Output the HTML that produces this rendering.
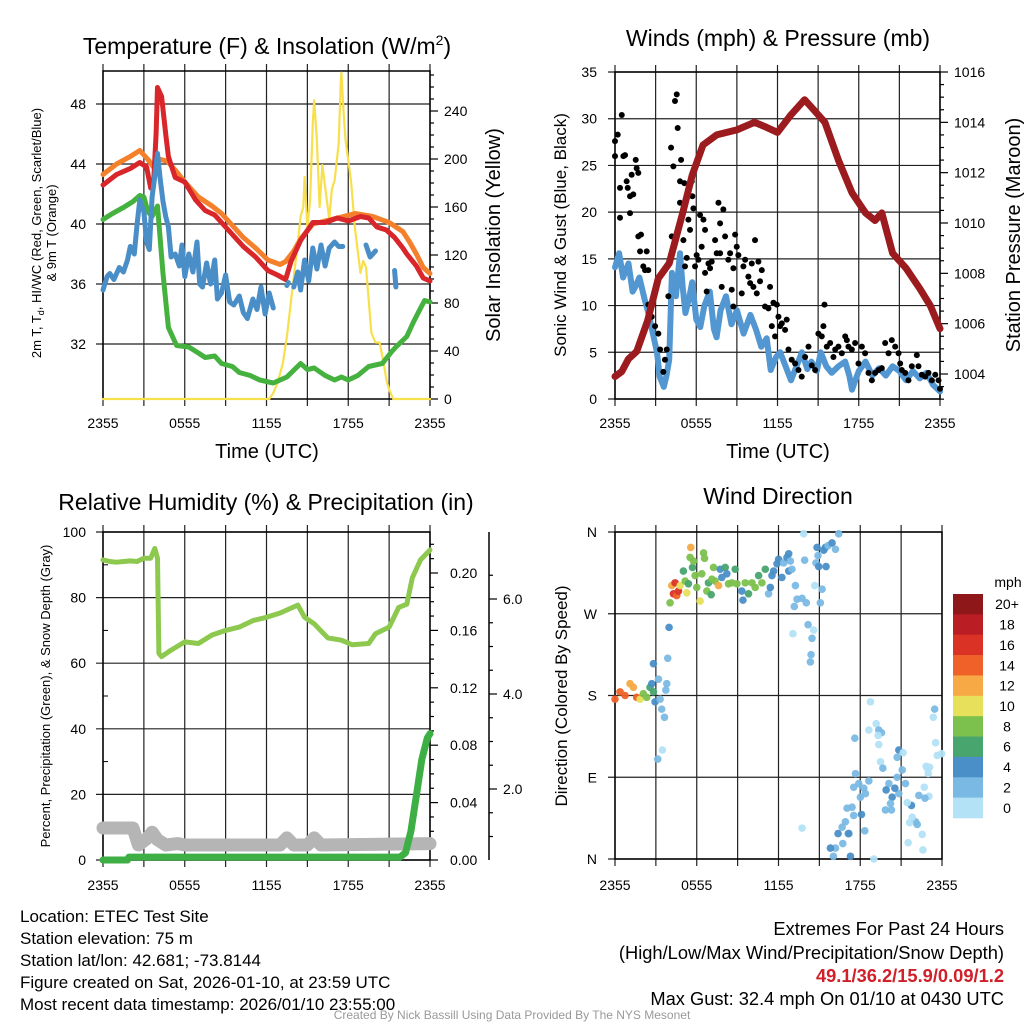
<!DOCTYPE html>
<html><head><meta charset="utf-8"><style>
html,body{margin:0;padding:0;background:#fff}
svg{display:block;font-family:"Liberation Sans",Arial,sans-serif}
</style></head><body>
<svg id="root" width="1024" height="1024" viewBox="0 0 1024 1024" xmlns="http://www.w3.org/2000/svg">
<rect width="1024" height="1024" fill="#fff"/>
<g id="p1"></g>
<g id="p2"></g>
<g id="p3"></g>
<g id="p4"></g>
<text x="267" y="54" font-size="23" text-anchor="middle">Temperature (F) &amp; Insolation (W/m<tspan dy="-9" font-size="14">2</tspan><tspan dy="9">)</tspan></text>
<text x="778" y="46" font-size="23" text-anchor="middle">Winds (mph) &amp; Pressure (mb)</text>
<text x="266" y="510" font-size="23" text-anchor="middle">Relative Humidity (%) &amp; Precipitation (in)</text>
<text x="778" y="504" font-size="23" text-anchor="middle">Wind Direction</text>
<text x="267" y="458" font-size="20" text-anchor="middle">Time (UTC)</text>
<text x="778" y="458" font-size="20" text-anchor="middle">Time (UTC)</text>
<text transform="translate(41,233) rotate(-90)" font-size="13" text-anchor="middle">2m T, T<tspan font-size="9" dy="3">d</tspan><tspan dy="-3">, HI/WC (Red, Green, Scarlet/Blue)</tspan></text>
<text transform="translate(56,233) rotate(-90)" font-size="13" text-anchor="middle">&amp; 9m T (Orange)</text>
<text transform="translate(500,235) rotate(-90)" font-size="20" text-anchor="middle">Solar Insolation (Yellow)</text>
<text transform="translate(566,235) rotate(-90)" font-size="17" text-anchor="middle">Sonic Wind &amp; Gust (Blue, Black)</text>
<text transform="translate(1020,235) rotate(-90)" font-size="20" text-anchor="middle">Station Pressure (Maroon)</text>
<text transform="translate(50,696) rotate(-90)" font-size="13" text-anchor="middle">Percent, Precipitation (Green), &amp; Snow Depth (Gray)</text>
<text transform="translate(567,696) rotate(-90)" font-size="17" text-anchor="middle">Direction (Colored By Speed)</text>
<g font-size="17">
<text x="20" y="922">Location: ETEC Test Site</text>
<text x="20" y="944">Station elevation: 75 m</text>
<text x="20" y="966">Station lat/lon: 42.681; -73.8144</text>
<text x="20" y="988">Figure created on Sat, 2026-01-10, at 23:59 UTC</text>
<text x="20" y="1010">Most recent data timestamp: 2026/01/10 23:55:00</text>
</g>
<g font-size="18.3" text-anchor="end">
<text x="1004" y="935">Extremes For Past 24 Hours</text>
<text x="1004" y="959">(High/Low/Max Wind/Precipitation/Snow Depth)</text>
<text x="1004" y="982" fill="#d0202a" font-weight="bold">49.1/36.2/15.9/0.09/1.2</text>
<text x="1004" y="1005">Max Gust: 32.4 mph On 01/10 at 0430 UTC</text>
</g>
<text x="512" y="1019" font-size="12" fill="#999" text-anchor="middle">Created By Nick Bassill Using Data Provided By The NYS Mesonet</text>
</svg>
<script>
// ---------- Panel 1 data ----------
const timeTickLabels = ["2355","0555","1155","1755","2355"];
const tempTicks = [32,36,40,44,48];
const insolTicks = [0,40,80,120,160,200,240];
const redTimes = [0,1,2,2.7,3.2,3.5,3.7,3.9,4.0,4.3,4.6,4.8,5.3,6,6.8,7.5,8.2,8.7,9.5,10.3,11.2,12.1,12.8,13.4,13.8,14.5,15.4,16.3,17.2,18,18.9,19.5,20.1,20.8,21.4,22,22.3,23,23.5,24];
const redVals = [42.6,43.3,43.7,44.1,43.8,42.4,42.5,46,49.1,48.5,46,44.5,43.1,42.8,41.6,40.9,40.6,40.1,39.3,38.5,37.8,36.9,36.6,36.3,37.5,38.9,40.1,40.1,40.4,40.2,40.5,40.4,39.8,39.6,39.1,38.4,38.0,37.2,36.4,36.2];
const orangeTimes = [0,1,2,2.7,3.3,3.7,4.2,4.7,5.3,6,7,8,8.7,9.5,10.3,11.2,12.1,13,13.4,14,14.5,15.4,16.3,17.2,18.5,19.8,21,22,22.5,23,23.5,24];
const orangeVals = [43.3,44.0,44.5,44.9,44.3,43.8,44.3,44.2,43.6,42.8,41.8,41.2,40.7,39.9,39.1,38.4,37.6,37.3,37.5,38.2,39.0,40.0,40.2,40.4,40.7,40.5,40.1,39.5,38.8,38.0,37.1,36.7];
const greenTimes = [0,0.7,1.5,2.2,2.7,3.0,3.3,3.6,4.0,4.2,4.4,4.8,5.4,6.3,7.0,7.5,8.2,8.7,9.5,10,10.8,11.5,12.5,13.5,14.5,15,15.5,16.3,17,17.5,18,18.7,19.5,20.5,21.2,21.5,22.3,22.8,23.2,23.6,24];
const greenVals = [40.3,40.7,41.1,41.5,41.9,41.8,40.8,40.5,41.2,39,36.7,33.1,31.9,31.8,31.4,31.1,31.2,30.7,30.5,30.1,29.9,29.6,29.4,29.8,30.7,30.3,30.4,29.9,29.6,29.8,29.6,29.9,30.5,30.7,31.5,31.8,32.5,33.5,34.2,34.9,34.8];
const blueTimes = [0,0.3,0.5,0.8,1.2,1.5,1.8,2.0,2.3,2.5,2.7,3.0,3.2,3.4,3.6,3.8,4.0,4.2,4.4,4.6,4.8,5.0,5.3,5.6,5.8,6.0,6.3,6.6,6.9,7.1,7.3,7.6,7.9,8.2,8.4,8.7,9.0,9.3,9.6,10.0,10.3,10.6,11.0,11.3,11.6,11.9,12.2,12.5,12.6,13.5,13.6,13.7,14.0,14.3,14.5,14.8,15.1,15.4,15.7,16.0,16.3,16.6,17.0,17.3,17.6,17.7,19.3,19.6,20.0,20.1,21.4,21.5];
const blueVals = [35.6,36.5,36.7,36.3,37.1,36.8,37.6,38.5,38.0,40.0,41.6,40.8,38.8,38.3,41.8,43.2,44.7,43.0,41.5,40.5,39.8,37.8,38.0,37.2,38.6,36.5,38.0,36.8,38.8,36.0,35.8,37.4,36.0,37.6,35.0,35.4,36.6,34.8,34.6,35.2,34.1,33.7,35.0,34.3,35.8,34.0,35.4,34.4,null,35.9,36.1,null,35.8,36.8,35.6,37.6,36.2,38.4,37.0,38.6,37.2,38.4,38.8,38.5,38.5,null,38.6,37.8,38.2,null,36.9,35.8];
const insolTimes = [0,12.2,12.5,12.8,13.2,13.5,14,14.3,14.5,14.7,14.8,15.0,15.2,15.4,15.5,15.7,15.9,16.1,16.3,16.6,16.8,17,17.3,17.45,17.5,17.65,17.8,18.2,18.5,18.9,19.1,19.3,19.7,20.0,20.3,20.6,20.8,21,21.3,24];
const insolVals = [0,0,5,13,30,52,102,130,152,160,185,143,165,230,249,215,160,195,177,150,175,182,213,265,272,240,216,182,141,105,115,110,55,47,47,30,16,8,0,0];
// ---------- Panel 2 data ----------
const windTicks = [0,5,10,15,20,25,30,35];
const presTicks = [1004,1006,1008,1010,1012,1014,1016];
const presTimes = [0,0.5,1,1.6,2.4,3.2,4,5,5.7,6.5,7.5,9,10.3,11.2,12,13,14,14.5,15.5,16.5,17.5,18.5,19.2,19.7,20.5,21.5,22.5,23.3,24];
const presVals = [1003.9,1004.1,1004.6,1004.9,1006.1,1007.8,1008.4,1010.4,1011.9,1013.1,1013.5,1013.7,1014.0,1013.8,1013.6,1014.3,1014.9,1014.6,1014.0,1012.5,1011.2,1010.4,1010.1,1010.4,1008.8,1008.2,1007.4,1006.7,1005.8];
const windTimes = [0,0.3,0.6,1,1.3,1.5,1.8,2.2,2.5,2.8,3.1,3.3,3.6,3.8,4.0,4.2,4.5,4.8,5.0,5.2,5.5,5.7,6.0,6.3,6.6,7,7.3,7.5,7.8,8.2,8.6,9,9.5,10,10.4,10.8,11.2,11.5,11.9,12.2,12.6,13,13.4,13.8,14.2,14.5,14.9,15.2,15.6,16,16.5,17,17.3,17.5,17.8,18,18.5,19,19.5,20,20.5,21,21.5,22,22.5,23,23.5,24];
const windVals = [14.1,15.6,13,14.5,11.5,12,13,10.6,9,7,5,2.4,1.3,2.5,4.2,13.5,11,15.6,12,9.2,11,12.5,8.5,7.7,10,11.5,7.5,6.6,9.5,11,8,9.5,7,9,7.5,5.6,6.5,3.1,4.5,5,3.5,2,3.5,5,3.2,4,3,5,3.5,2.8,3.5,4,2.5,1,2.2,3,4,2.5,3.3,2.5,3.5,3,2,3,2.2,2.8,1.5,0.8];
const gustTimes = [0,0,0.2,0.5,0.37,0.37,0.62,0.74,0.86,0.94,1.11,1.23,1.35,1.11,1.53,1.6,1.72,1.72,1.92,1.85,2.09,2.22,2.34,2.46,2.46,2.71,2.96,3.2,3.33,3.57,3.69,3.82,3.94,4.14,4.31,4.19,4.43,4.56,4.63,4.88,4.8,4.8,5.05,5.12,5.17,5.3,5.42,5.54,5.67,5.71,5.79,5.91,6.03,6.16,6.28,6.4,6.53,6.65,6.65,6.77,6.9,7.02,7.14,7.39,7.51,7.64,7.76,7.76,7.88,8.0,8.13,8.37,8.5,8.62,8.74,8.74,8.87,8.99,9.11,9.36,9.48,9.61,9.85,9.98,10.1,10.22,10.34,10.47,10.59,10.71,10.84,11.08,11.33,11.45,11.58,11.7,11.82,11.95,12.07,12.19,12.32,12.56,12.68,12.81,13.05,13.3,13.55,13.79,14.04,14.29,14.53,14.78,15.02,15.27,15.39,15.47,15.64,15.89,16.13,16.26,16.5,16.75,17.0,17.12,17.24,17.49,17.73,17.98,18.23,18.47,18.72,18.97,19.21,19.46,19.7,19.95,20.2,20.44,20.69,20.94,21.06,21.18,21.43,21.67,21.92,22.29,22.41,22.66,22.91,23.15,23.4,23.65,23.89,24.0];
const gustVals = [27.6,26.0,28.3,30.4,22.6,19.4,26.0,26.1,23.3,22.6,21.7,24.0,21.9,19.9,25.6,24.7,24.2,17.4,17.6,15.8,14.2,13.8,15.8,13.8,10.1,8.8,7.8,7.0,5.3,2.9,4.2,5.3,11.0,26.9,24.9,17.4,31.9,32.6,29.0,25.6,23.3,21.0,17.0,23.1,14.2,15.1,19.2,18.1,23.3,21.7,20.4,14.2,15.4,14.9,19.7,16.3,19.2,18.1,13.5,11.5,14.5,14.0,14.7,17.0,15.6,21.0,18.8,15.6,12.0,20.3,17.4,14.9,15.6,11.7,14.0,9.9,17.6,16.3,15.4,11.3,14.2,14.9,13.1,12.4,14.5,12.0,17.0,11.3,14.7,12.6,13.8,9.9,9.7,12.0,7.8,10.3,6.7,10.1,8.8,7.8,8.1,7.4,8.5,5.3,4.2,3.8,3.1,2.4,4.5,5.6,3.6,3.1,7.0,6.7,7.8,10.1,5.6,6.0,4.5,5.3,5.6,4.9,6.7,6.3,5.6,5.3,6.0,3.8,5.6,4.9,2.8,2.0,2.8,3.1,3.3,6.0,4.9,6.3,5.6,4.9,3.8,3.1,2.8,2.0,3.5,4.7,3.5,2.6,2.4,2.8,2.0,2.6,2.0,1.1];
// ---------- Panel 3 data ----------
const rhTicks = [0,20,40,60,80,100];
const precipTicks = [0,0.04,0.08,0.12,0.16,0.20];
const precipTickLabels = ["0.00","0.04","0.08","0.12","0.16","0.20"];
const snowTicks = [2,4,6];
const snowTickLabels = ["2.0","4.0","6.0"];
const rhTimes = [0,0.5,1,1.5,2,2.5,3,3.5,3.8,4.0,4.1,4.3,5,6,7,8,9,10,11,12,13,14.3,14.8,15.5,16.5,17.5,18.3,19.5,20,21,21.7,22.3,22.7,23.3,24];
const rhVals = [91.5,91,90.8,91,91.2,91,92,92,95,92,63,62,64,66.5,66,68.6,70,71,73,74,75.3,77.7,74,72,67.7,67,65.6,66,69,71,77,78,86,91.5,94.5];
const precipTimes = [0,1.8,1.9,21.8,22.2,22.6,23,23.4,23.8,24];
const precipVals = [0,0,0.002,0.002,0.005,0.02,0.045,0.07,0.085,0.088];
const snowTimes = [0,2.2,2.6,3.2,3.6,4.0,4.6,5.5,6.0,13.0,13.5,14.0,15.0,15.5,16.0,24];
const snowVals = [1.18,1.18,0.82,0.95,1.09,0.93,0.82,0.85,0.82,0.82,0.97,0.82,0.82,0.97,0.82,0.85];
// ---------- Panel 4 data ----------
const dirTickLabels = ["N","E","S","W","N"];
const dirTicks = [0,90,180,270,360];
const speedBinLabels = ["20+","18","16","14","12","10","8","6","4","2","0"];
const speedBinColors = ["#8e171a","#bb1d24","#db3226","#ef6128","#f6a944","#e6e05a","#7cc14e","#48a56e","#4a8fc7","#7ab9e3","#b3e2f7"];
const dirTimes = [0,0.37,0.74,1.1,1.35,1.59,1.84,2.08,2.33,2.57,2.7,2.82,2.94,2.82,3.19,3.31,3.43,3.63,3.8,3.73,3.87,3.97,3.48,3.14,
4.04,4.17,4.41,4.29,4.53,4.66,4.78,5.02,5.15,5.27,5.39,5.51,5.56,5.69,5.76,5.88,6.0,6.25,6.37,6.5,6.57,6.74,6.86,7.06,7.11,7.23,7.35,7.6,7.72,7.84,8.09,8.21,8.33,8.58,8.82,8.95,9.31,9.39,9.56,9.8,10.05,10.29,10.54,10.78,11.03,11.27,11.4,11.52,11.64,11.89,12.01,12.25,12.38,12.62,12.75,12.75,12.99,12.87,
13.85,13.92,13.24,13.36,13.16,13.73,14.04,14.66,14.83,14.9,15.07,15.2,14.75,14.95,15.32,15.49,15.44,15.64,15.93,16.18,16.42,13.06,14.17,14.58,14.46,14.39,14.34,
18.75,19.17,18.63,19.36,19.56,19.31,19.36,17.6,19.49,19.66,20.83,20.71,21.15,21.08,20.71,21.32,20.83,17.65,17.52,17.89,18.26,18.38,18.01,17.4,17.03,18.09,17.52,18.63,20.1,19.9,20.54,20.34,20.22,19.85,20.29,21.76,21.45,22.3,22.7,23.04,22.75,22.06,22.18,21.62,21.81,22.55,22.6,21.52,18.33,17.11,16.37,17.16,16.91,16.67,16.72,16.18,15.81,16.03,17.28,13.73,19.0,22.84,23.09,22.99,23.65,23.97,23.53,23.46,23.36,22.92];
const dirVals = [176,184,180,193,189,178,176,182,178,189,193,184,173,215,198,176,165,156,193,186,221,255,120,110,
282,301,304,292,290,295,301,317,306,293,303,332,343,321,328,312,299,284,314,337,331,295,304,291,308,321,306,301,319,310,321,314,303,304,319,303,295,285,304,292,304,299,312,304,319,292,299,312,317,325,330,310,326,332,336,317,319,328,
358,329,301,286,278,287,282,301,343,334,282,297,326,322,340,322,343,345,348,341,358,248,258,252,243,225,217,
173,149,142,142,139,136,126,133,107,100,120,112,117,98,90,83,72,94,79,83,78,72,68,57,56,49,48,86,83,76,78,68,61,54,54,59,62,70,79,69,67,41,38,40,46,27,10,18,31,28,28,28,41,35,17,12,12,3,3,34,0,102,101,94,114,116,128,165,156,100];
const dirSpeeds = [15,14.5,15,12.5,13,14.5,10.5,8.5,8.5,7,4.5,6.5,4.5,4.5,3,3,3,3,3,3,3,4.5,1,3,
8.5,12.5,16.5,16,15,17,10.5,6.5,8.5,10.5,6.5,8.5,12.5,6.5,8.5,9,8.5,10.5,8.5,8.5,8.5,8.5,6.5,6.5,8.5,8.5,8.5,12.5,5,4.5,7,4.5,8.5,8.5,7,8.5,4.5,4.5,8.5,7,8.5,8.5,7,8.5,7,3,4.5,4.5,4.5,4.5,4.5,4.5,3,4.5,4.5,4.5,3,3,
1,3,3,3,3,3,3,1,4.5,3,3,3,3,4.5,4.5,4.5,4.5,3,4.5,3,3,1,3,1,3,3,3,
1,1,1,3,3,1,1,3,1,3,4.5,3,1,3,3,3,3,3,3,3,3,3,3,3,3,4.5,3,3,3,4.5,4.5,4.5,3,3,3,4.5,1,3,1,1,3,3,3,1,1,1,1,1,3,3,4.5,4.5,3,3,3,3,4.5,3,4.5,1,1,1,1,1,1,1,1,3,1,1];

const NS = "http://www.w3.org/2000/svg";
function el(tag, attrs, parent){const e=document.createElementNS(NS,tag);for(const k in attrs)e.setAttribute(k,attrs[k]);parent.appendChild(e);return e;}
function lin(d0,d1,r0,r1){return v=>r0+(v-d0)*(r1-r0)/(d1-d0);}
function pathFrom(ts,vs,sx,sy){let d="",pen=false;for(let i=0;i<ts.length;i++){if(vs[i]===null){pen=false;continue;}d+=(pen?"L":"M")+sx(ts[i]).toFixed(1)+","+sy(vs[i]).toFixed(1);pen=true;}return d;}
function frame(g,x0,x1,y0,y1,sx,hLines){
  for(let h=0;h<=24;h+=3){const x=sx(h);const l=el("line",{x1:x,x2:x,y1:y0-7,y2:y1+7,stroke:"#222","stroke-width":1.2},g);
    
    }
  hLines.forEach(y=>{const l=el("line",{x1:x0-7,x2:x1,y1:y,y2:y,stroke:"#222","stroke-width":1.2},g);
    
    });
  const r=el("rect",{x:x0,y:y0,width:x1-x0,height:y1-y0,fill:"none",stroke:"#000","stroke-width":1.5},g);
  
  
}
function timeLabels(g,sx,y){
  timeTickLabels.forEach((s,i)=>{const t=el("text",{x:sx(i*6),y:y,"font-size":14,"text-anchor":"middle"},g);t.textContent=s;
    
    });
}
function label(g,x,y,s,anchor){const t=el("text",{x:x,y:y,"font-size":14,"text-anchor":anchor},g);t.textContent=s;
  
  return t;}
function line(g,ts,vs,sx,sy,color,w,name){const p=el("path",{d:pathFrom(ts,vs,sx,sy),fill:"none",stroke:color,"stroke-width":w,"stroke-linejoin":"round","stroke-linecap":"round"},g);
  
  return p;}

// ----- Panel 1 -----
(function(){
  const g=document.getElementById("p1");
  const x0=103,x1=430,y0=71,y1=399;
  const sx=lin(0,24,x0,x1), sy=lin(48,32,104,344), si=lin(0,240,399,111);
  frame(g,x0,x1,y0,y1,sx,tempTicks.map(sy));
  tempTicks.forEach(v=>label(g,86,sy(v)+5,String(v),"end"));
  for(let v=0;v<=270;v+=10){const x=x1;const l=el("line",{x1:x,x2:x+(v%40===0?8:4),y1:si(v),y2:si(v),stroke:"#000","stroke-width":1.2},g);
    
    }
  insolTicks.forEach(v=>label(g,444,si(v)+5,String(v),"start"));
  timeLabels(g,sx,428);
  line(g,insolTimes,insolVals,sx,si,"#f8df4c",2.2,"insolation-line");
  line(g,greenTimes,greenVals,sx,sy,"#45b23f",5,"dewpoint-line");
  line(g,orangeTimes,orangeVals,sx,sy,"#f4802c",5,"9m-temperature-line");
  line(g,redTimes,redVals,sx,sy,"#d8262b",5,"2m-temperature-line");
  line(g,blueTimes,blueVals,sx,sy,"#4a8ec8",5,"heat-index-windchill-line");
})();

// ----- Panel 2 -----
(function(){
  const g=document.getElementById("p2");
  const x0=615,x1=940,y0=72,y1=399;
  const sx=lin(0,24,x0,x1), sy=lin(0,35,399,72), sp=lin(1004,1016,374,72);
  frame(g,x0,x1,y0,y1,sx,windTicks.map(sy));
  windTicks.forEach(v=>label(g,597,sy(v)+5,String(v),"end"));
  for(let v=1003;v<=1016;v+=0.5){const l=el("line",{x1:x1,x2:x1+(v%2===0?8:4),y1:sp(v),y2:sp(v),stroke:"#000","stroke-width":1.2},g);
    
    }
  presTicks.forEach(v=>label(g,954,sp(v)+5,String(v),"start"));
  timeLabels(g,sx,428);
  line(g,windTimes,windVals,sx,sy,"#5297d1",6,"sonic-wind-line");
  const gg=el("g",{},g);
  
  
  gustTimes.forEach((t,i)=>{const c=el("circle",{cx:sx(t),cy:sy(gustVals[i]),r:3,fill:"#000"},gg);
    
    });
  line(g,presTimes,presVals,sx,sp,"#9b1b1e",7,"pressure-line");
})();

// ----- Panel 3 -----
(function(){
  const g=document.getElementById("p3");
  const x0=103,x1=430,y0=532,y1=860;
  const sx=lin(0,24,x0,x1), sy=lin(0,100,860,532), spr=lin(0,0.2,860,573), ss=lin(2,6,789,599);
  frame(g,x0,x1,y0,y1,sx,rhTicks.map(sy));
  for(let v=10;v<100;v+=20){const l=el("line",{x1:x0,x2:x0+5,y1:sy(v),y2:sy(v),stroke:"#000"},g);
    
    }
  rhTicks.forEach(v=>label(g,86,sy(v)+5,String(v),"end"));
  for(let v=0;v<=0.225;v+=0.01){const major=Math.abs(v*100-Math.round(v*25)*4)<0.01;const l=el("line",{x1:x1,x2:x1+(major?8:4),y1:spr(v),y2:spr(v),stroke:"#000","stroke-width":1.2},g);
    
    }
  precipTicks.forEach((v,i)=>label(g,450,spr(v)+5,precipTickLabels[i],"start"));
  const ax=el("line",{x1:489,x2:489,y1:532,y2:860,stroke:"#000","stroke-width":1.5},g);
  
  
  for(let v=0.5;v<=6.5;v+=0.5){const y=ss(v);if(y<532||y>860)continue;const l=el("line",{x1:489,x2:489+(v%2===0?8:4),y1:y,y2:y,stroke:"#000","stroke-width":1.2},g);
    
    }
  snowTicks.forEach((v,i)=>label(g,503,ss(v)+5,snowTickLabels[i],"start"));
  timeLabels(g,sx,890);
  line(g,snowTimes,snowVals,sx,ss,"#b5b5b5",13,"snow-depth-line");
  line(g,rhTimes,rhVals,sx,sy,"#8dc94f",5,"relative-humidity-line");
  line(g,precipTimes,precipVals,sx,spr,"#3eaf45",7,"precipitation-line");
})();

// ----- Panel 4 -----
(function(){
  const g=document.getElementById("p4");
  const x0=615,x1=942,y0=532,y1=859;
  const sx=lin(0,24,x0,x1), sy=lin(0,360,859,532);
  frame(g,x0,x1,y0,y1,sx,dirTicks.map(sy));
  dirTicks.forEach((v,i)=>label(g,597,sy(v)+5,dirTickLabels[i],"end"));
  timeLabels(g,sx,890);
  const gg=el("g",{},g);
  
  
  dirTimes.forEach((t,i)=>{const s=dirSpeeds[i];let bin=10-Math.min(10,Math.floor(s/2));
    const c=el("circle",{cx:sx(t),cy:sy(dirVals[i]),r:3.8,fill:speedBinColors[bin],"fill-opacity":0.95},gg);
    
    });
  const cb=el("g",{},g);
  
  
  const h=224/11;
  speedBinColors.forEach((c,i)=>{const r=el("rect",{x:953,y:594+i*h,width:30,height:h+0.3,fill:c},cb);
    
    
    const t=el("text",{x:1007,y:594+i*h+h/2+5,"font-size":14,"text-anchor":"middle"},cb);t.textContent=speedBinLabels[i];
    
    });
  const u=el("text",{x:1008,y:587,"font-size":14,"text-anchor":"middle"},cb);u.textContent="mph";
  
  
})();
</script>
</body></html>
